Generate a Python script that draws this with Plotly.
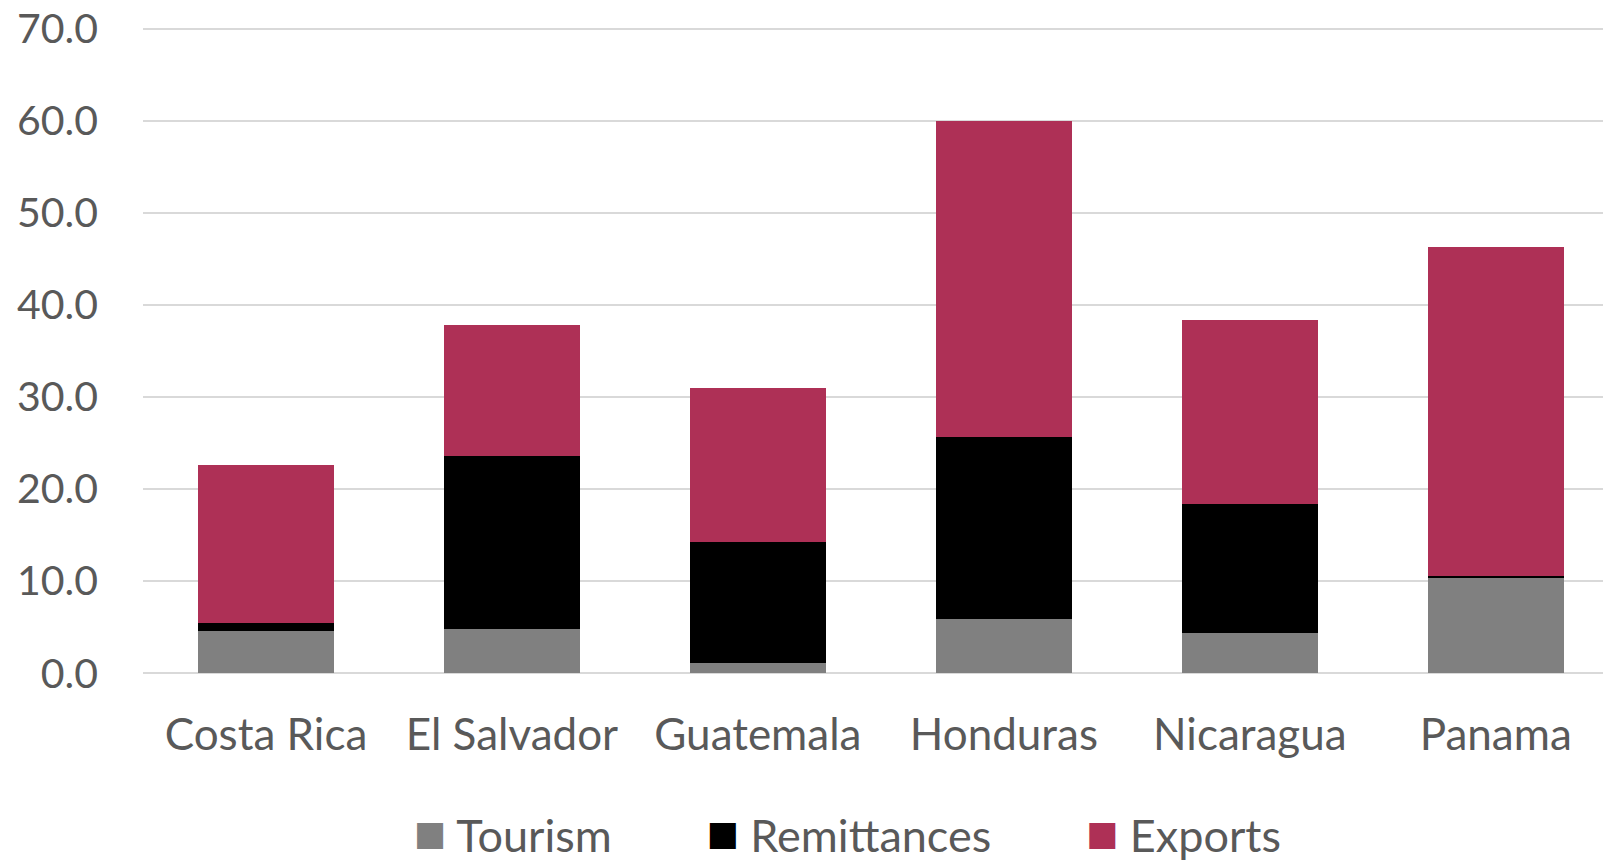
import plotly.graph_objects as go

# Central American economies: inflows as a share of GDP (%)
countries = ["Costa Rica", "El Salvador", "Guatemala", "Honduras", "Nicaragua", "Panama"]
tourism = [4.6, 4.8, 1.1, 5.9, 4.4, 10.3]
remittances = [0.8, 18.8, 13.2, 19.8, 14.0, 0.3]
exports = [17.2, 14.2, 16.7, 34.3, 20.0, 35.7]

series_names = ["Tourism", "Remittances", "Exports"]
series_colors = ["#808080", "#000000", "#AE3056"]
y_ticks = [0, 10, 20, 30, 40, 50, 60, 70]

FONT = "Lato"
TEXT_COLOR = "#595959"

fig = go.Figure()

for name, vals, color in zip(series_names, [tourism, remittances, exports], series_colors):
    fig.add_trace(go.Bar(
        x=countries, y=vals, name=name,
        marker=dict(color=color, line=dict(width=0)),
        showlegend=False,
    ))

# Legend entries with large square swatches
for name, color in zip(series_names, series_colors):
    fig.add_trace(go.Bar(
        x=[None], y=[None],
        name=(f"<span style='color:{color};font-family:DejaVu Sans;font-size:34px;"
              f"baseline-shift:7px'>■</span> {name}"),
        marker=dict(color="rgba(0,0,0,0)", line=dict(width=0)),
        showlegend=True,
    ))

fig.update_layout(
    width=1603, height=860,
    barmode="stack",
    bargap=0.447,
    plot_bgcolor="white",
    paper_bgcolor="white",
    margin=dict(l=143, r=0, t=27, b=185, autoexpand=False),
    font=dict(family=FONT, color=TEXT_COLOR, size=44),
    legend=dict(
        orientation="h",
        traceorder="normal",
        x=0.124, xanchor="left",
        yref="container",
        y=0.03, yanchor="middle",
        itemwidth=80,
        font=dict(family=FONT, size=45, color=TEXT_COLOR),
        bgcolor="rgba(0,0,0,0)",
    ),
    xaxis=dict(
        range=[-0.5, 5.436],
        showgrid=False, showline=False, zeroline=False,
        ticks="", ticklabelstandoff=30,
        tickfont=dict(family=FONT, size=44, color=TEXT_COLOR),
    ),
    yaxis=dict(
        range=[-0.2, 70.2],
        tickvals=y_ticks,
        ticktext=[f"{v:.1f}" for v in y_ticks],
        showgrid=True, gridcolor="#D9D9D9", gridwidth=1.5,
        zeroline=False, showline=False,
        ticks="", ticklabelstandoff=44,
        tickfont=dict(family=FONT, size=41, color=TEXT_COLOR),
    ),
)

fig.write_html("out.html")
